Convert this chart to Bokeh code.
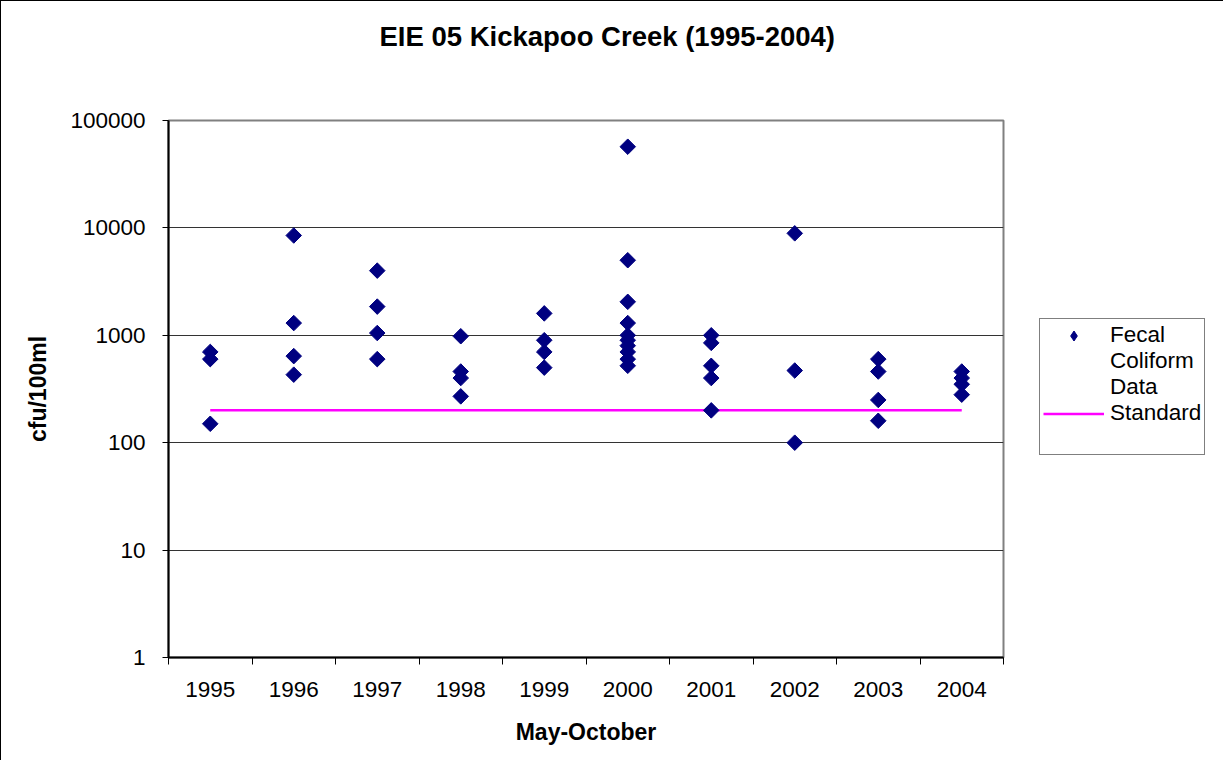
from bokeh.plotting import figure
from bokeh.models import Range1d, FixedTicker, Legend, LegendItem
from bokeh.embed import file_html
from bokeh.resources import INLINE

# ---- data ----
years = ["1995", "1996", "1997", "1998", "1999", "2000", "2001", "2002", "2003", "2004"]
fecal_1995 = [700, 600, 150]
fecal_1996 = [8500, 1300, 640, 430]
fecal_1997 = [4000, 1850, 1050, 600]
fecal_1998 = [980, 460, 400, 270]
fecal_1999 = [1600, 900, 700, 500]
fecal_2000 = [57000, 5000, 2050, 1300, 1000, 900, 800, 700, 600, 520]
fecal_2001 = [1000, 850, 520, 400, 200]
fecal_2002 = [8900, 470, 100]
fecal_2003 = [600, 460, 250, 160]
fecal_2004 = [460, 400, 350, 280]
standard_value = 200
y_ticks = [1, 10, 100, 1000, 10000, 100000]
y_tick_labels = ["1", "10", "100", "1000", "10000", "100000"]

groups = [fecal_1995, fecal_1996, fecal_1997, fecal_1998, fecal_1999,
          fecal_2000, fecal_2001, fecal_2002, fecal_2003, fecal_2004]
cat_pos = [i + 1 for i in range(len(years))]
xs, ys = [], []
for pos, vals in zip(cat_pos, groups):
    xs += [pos] * len(vals)
    ys += vals

NAVY = "#000080"
MAGENTA = "#FF00FF"
FONT = "Liberation Sans"

p = figure(frame_width=835, frame_height=537,
           min_border_left=167, min_border_right=203,
           min_border_top=119, min_border_bottom=103,
           x_range=Range1d(cat_pos[0] - 0.5, cat_pos[-1] + 0.5),
           y_range=Range1d(y_ticks[0], y_ticks[-1]),
           y_axis_type="log",
           output_backend="svg", toolbar_location=None,
           styles={"border-left": "1px solid black", "border-top": "1px solid black"})

p.background_fill_color = "white"
p.border_fill_color = "white"
p.outline_line_color = "#808080"
p.outline_line_width = 2

# title (trailing blank lines lift it towards the top of the chart)
p.title.text = "EIE 05 Kickapoo Creek (1995-2004)\n \n "
p.title.align = "left"
p.title.offset = 211
p.title.standoff = 14
p.title.text_font = FONT
p.title.text_font_size = "27.5px"
p.title.text_font_style = "bold"
p.title.text_color = "black"

# x axis
xa = p.xaxis[0]
xa.ticker = FixedTicker(ticks=cat_pos, minor_ticks=[c - 0.5 for c in cat_pos] + [cat_pos[-1] + 0.5])
xa.major_label_overrides = {c: y for c, y in zip(cat_pos, years)}
xa.major_tick_out = 0
xa.major_tick_in = 0
xa.minor_tick_out = 7
xa.minor_tick_in = 0
xa.minor_tick_line_color = "black"
xa.axis_line_color = "black"
xa.axis_line_width = 2
xa.major_label_text_font = FONT
xa.major_label_text_font_size = "22.5px"
xa.major_label_text_color = "black"
xa.major_label_standoff = 17
xa.axis_label = "May-October"
xa.axis_label_text_font = FONT
xa.axis_label_text_font_size = "23px"
xa.axis_label_text_font_style = "bold"
xa.axis_label_text_color = "black"
xa.axis_label_standoff = 19

# y axis
ya = p.yaxis[0]
ya.ticker = FixedTicker(ticks=y_ticks)
ya.major_label_overrides = {t: l for t, l in zip(y_ticks, y_tick_labels)}
ya.major_tick_out = 6
ya.major_tick_in = 0
ya.minor_tick_out = 0
ya.minor_tick_in = 0
ya.axis_line_color = "black"
ya.axis_line_width = 2
ya.major_label_text_font = FONT
ya.major_label_text_font_size = "22.5px"
ya.major_label_text_color = "black"
ya.major_label_standoff = 17
ya.axis_label = "cfu/100ml"
ya.axis_label_text_font = FONT
ya.axis_label_text_font_size = "23px"
ya.axis_label_text_font_style = "bold"
ya.axis_label_text_color = "black"
ya.axis_label_standoff = 16

p.xgrid.grid_line_color = None
p.ygrid.ticker = FixedTicker(ticks=y_ticks)
p.ygrid.grid_line_color = "#333333"
p.ygrid.grid_line_width = 1

# standard line
std = p.line(x=[cat_pos[0], cat_pos[-1]], y=[standard_value, standard_value],
             line_color=MAGENTA, line_width=2.5)

# legend swatch renderer (same data, hidden beneath the rotated squares)
leg_diamond = p.scatter(x=xs, y=ys, marker="diamond", size=10,
                        fill_color=NAVY, line_color=NAVY)
# data points: squares turned 45 degrees (Excel-style diamonds)
pts = p.scatter(x=xs, y=ys, marker="square", angle=0.7853981634, size=11,
                fill_color=NAVY, line_color=NAVY)
# blank swatch for continuation lines of the legend text
leg_blank = p.line(x=[cat_pos[0], cat_pos[-1]], y=[standard_value, standard_value],
                   line_alpha=0)

legend = Legend(items=[
    LegendItem(label="Fecal", renderers=[leg_diamond]),
    LegendItem(label="Coliform", renderers=[leg_blank]),
    LegendItem(label="Data", renderers=[leg_blank]),
    LegendItem(label="Standard", renderers=[std]),
    LegendItem(label=" ", renderers=[leg_blank]),
], location=(36, 202))
legend.margin = 18
legend.padding = 3
legend.spacing = 0
legend.glyph_width = 61
legend.glyph_height = 25
legend.label_height = 20
legend.label_standoff = 6
legend.label_text_font = FONT
legend.label_text_font_size = "22.5px"
legend.label_text_color = "black"
legend.border_line_color = "black"
legend.border_line_width = 1
legend.background_fill_color = "white"
legend.background_fill_alpha = 1
p.add_layout(legend, "right")

open("out.html", "w").write(file_html(p, INLINE))
